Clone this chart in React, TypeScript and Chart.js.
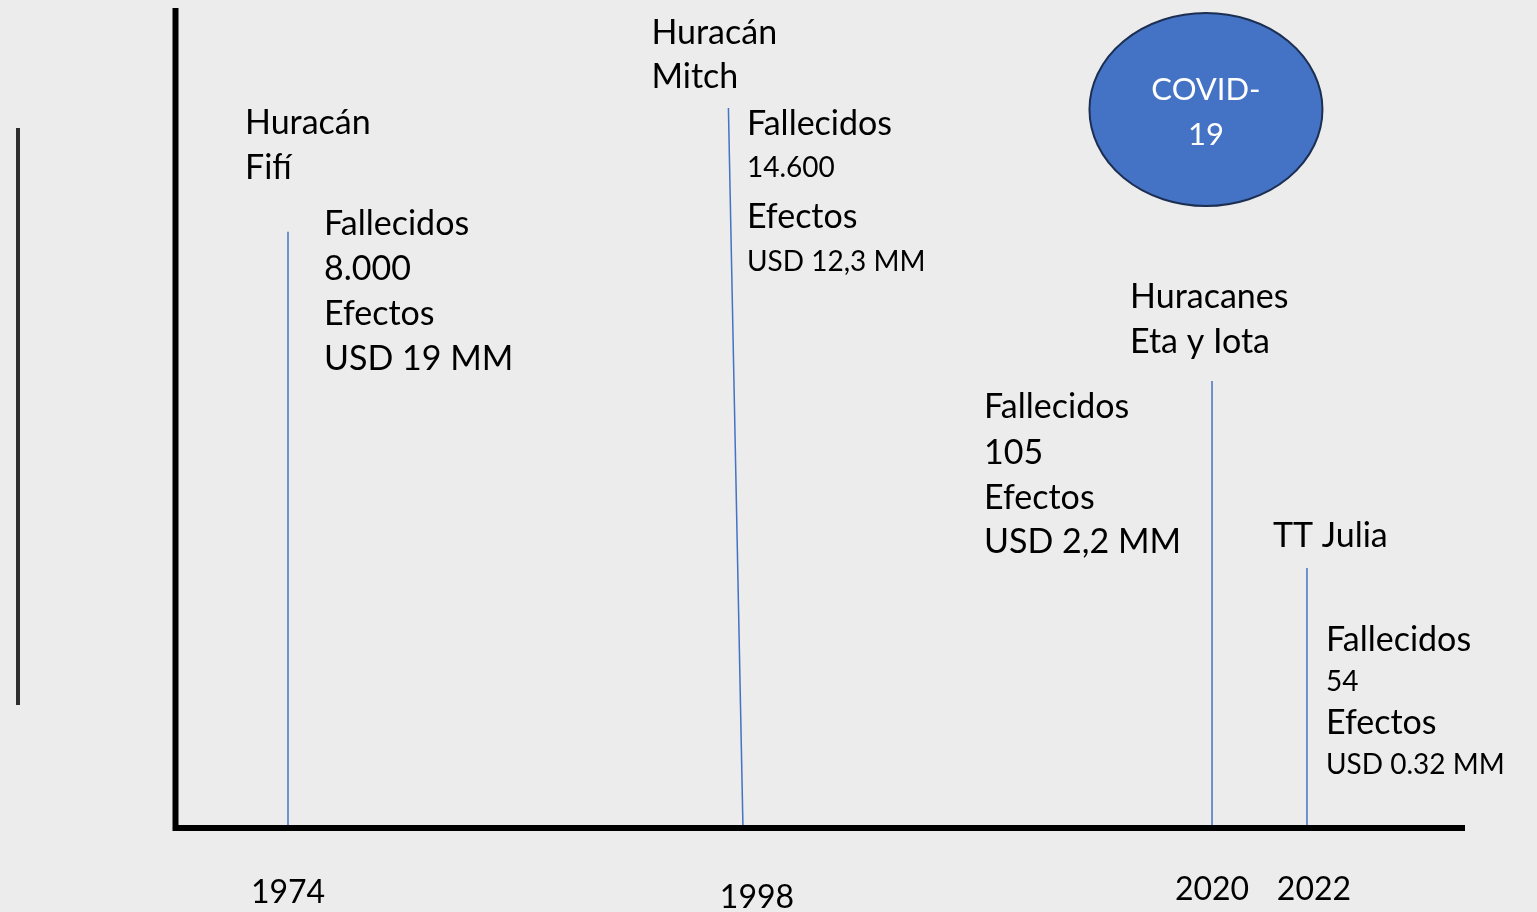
import React, { useEffect, useRef } from "react";
import { Chart, registerables } from "chart.js";

Chart.register(...registerables);

// ---------- data ----------
const eventTitles: string[][] = [
  ["Huracán", "Fifí"],
  ["Huracán", "Mitch"],
  ["Huracanes", "Eta y Iota"],
  ["TT Julia"],
];
const eventYears = ["1974", "1998", "2020", "2022"];
const deathsLabel = "Fallecidos";
const effectsLabel = "Efectos";
const deaths = ["8.000", "14.600", "105", "54"];
const effects = ["USD 19 MM", "USD 12,3 MM", "USD 2,2 MM", "USD 0.32 MM"];
// position on the (not-to-scale) timeline, 0..100 axis units
const timelineBase = [8.76, 44.03, 80.39, 87.75];
const timelineTop = [8.76, 42.9, 80.39, 87.75];
// height of each event marker line, 0..100 axis units
const markerHeight = [72.7, 87.8, 54.5, 31.7];
const covidLabel = ["COVID-", "19"];
const covidPos = { x: 79.92, y: 87.62 };

// ---------- style / layout ----------
const FONT = "Lato, 'Open Sans', sans-serif";
const BG = "#ececec";
const BLUE = "#4472c4";
const LABEL_LAYOUT = [
  { titleDx: -43, titleDy: -98, titleGap: 45, detDx: 36, detDy: 3, detGaps: [45, 45, 45], sizes: [34, 34, 34, 34] },
  { titleDx: -77, titleDy: -64.5, titleGap: 44.5, detDx: 18.5, detDy: 27, detGaps: [41.7, 51, 43.3], sizes: [34, 28, 34, 28] },
  { titleDx: -82, titleDy: -73, titleGap: 45, detDx: -228, detDy: 37, detGaps: [46, 45, 44], sizes: [34, 34, 34, 34] },
  { titleDx: -34, titleDy: -21, titleGap: 45, detDx: 19, detDy: 83, detGaps: [40, 43, 40], sizes: [34, 28, 34, 28] },
];
const YEAR_LAYOUT = { dx: [0, 14, 0, 7], dy: [75, 80, 72, 72], size: 32 };
const COVID_STYLE = { rx: 116.5, ry: 96.5, size: 31, dy: [-9.5, 35.5] };

const overlayPlugin = {
  id: "timelineOverlay",
  afterDatasetsDraw(chart: any) {
    const { ctx, chartArea, scales } = chart;
    const { left, right, top, bottom } = chartArea;
    const xs = scales.x;
    const ys = scales.y;
    ctx.save();

    // decorative separator at the far left
    ctx.strokeStyle = "#2e2e2e";
    ctx.lineWidth = 4;
    ctx.beginPath();
    ctx.moveTo(18, 128);
    ctx.lineTo(18, 705);
    ctx.stroke();

    // axes
    ctx.strokeStyle = "#000";
    ctx.lineWidth = 6;
    ctx.lineJoin = "miter";
    ctx.lineCap = "butt";
    ctx.beginPath();
    ctx.moveTo(left + 0.5, top);
    ctx.lineTo(left + 0.5, bottom);
    ctx.lineTo(right, bottom);
    ctx.stroke();

    ctx.fillStyle = "#000";
    ctx.textBaseline = "alphabetic";

    eventTitles.forEach((title, i) => {
      const L = LABEL_LAYOUT[i];
      const tx = xs.getPixelForValue(timelineTop[i]);
      const ty = ys.getPixelForValue(markerHeight[i]);
      ctx.textAlign = "left";
      ctx.font = `34px ${FONT}`;
      title.forEach((t, k) => {
        ctx.fillText(t, tx + L.titleDx, ty + L.titleDy + k * L.titleGap);
      });
      const lines = [deathsLabel, deaths[i], effectsLabel, effects[i]];
      let yy = ty + L.detDy;
      lines.forEach((t, k) => {
        if (k > 0) yy += L.detGaps[k - 1];
        ctx.font = `${L.sizes[k]}px ${FONT}`;
        ctx.fillText(t, tx + L.detDx, yy);
      });

      // year labels
      const bx = xs.getPixelForValue(timelineBase[i]);
      ctx.textAlign = "center";
      ctx.font = `${YEAR_LAYOUT.size}px ${FONT}`;
      ctx.fillText(eventYears[i], bx + YEAR_LAYOUT.dx[i], bottom + YEAR_LAYOUT.dy[i]);
    });

    // COVID-19 bubble
    const cx = xs.getPixelForValue(covidPos.x);
    const cy = ys.getPixelForValue(covidPos.y);
    ctx.beginPath();
    ctx.ellipse(cx, cy, COVID_STYLE.rx, COVID_STYLE.ry, 0, 0, Math.PI * 2);
    ctx.fillStyle = BLUE;
    ctx.fill();
    ctx.lineWidth = 2;
    ctx.strokeStyle = "#1c2f52";
    ctx.stroke();
    ctx.fillStyle = "#fff";
    ctx.textAlign = "center";
    ctx.font = `${COVID_STYLE.size}px ${FONT}`;
    covidLabel.forEach((t, k) => ctx.fillText(t, cx, cy + COVID_STYLE.dy[k]));

    ctx.restore();
  },
};

export default function App() {
  const ref = useRef<HTMLCanvasElement | null>(null);

  useEffect(() => {
    if (!ref.current) return;
    const datasets = eventYears.map((yr, i) => ({
      label: yr,
      data: [
        { x: timelineBase[i], y: 0 },
        { x: timelineTop[i], y: markerHeight[i] },
      ],
      borderColor: BLUE,
      borderWidth: 1.5,
      pointRadius: 0,
      fill: false,
      tension: 0,
    }));
    const chart = new Chart(ref.current, {
      type: "line",
      data: { datasets },
      options: {
        responsive: false,
        maintainAspectRatio: false,
        animation: false,
        layout: { padding: { left: 175, right: 72, top: 8, bottom: 84 } },
        scales: {
          x: { type: "linear", min: 0, max: 100, display: false },
          y: { type: "linear", min: 0, max: 100, display: false },
        },
        plugins: {
          legend: { display: false },
          tooltip: { enabled: false },
        },
      },
      plugins: [overlayPlugin],
    } as any);
    return () => chart.destroy();
  }, []);

  return (
    <div
      style={{
        position: "absolute",
        left: 0,
        top: 0,
        width: 1537,
        height: 912,
        background: BG,
        overflow: "hidden",
      }}
    >
      <canvas ref={ref} width={1537} height={912} style={{ display: "block" }} />
    </div>
  );
}
